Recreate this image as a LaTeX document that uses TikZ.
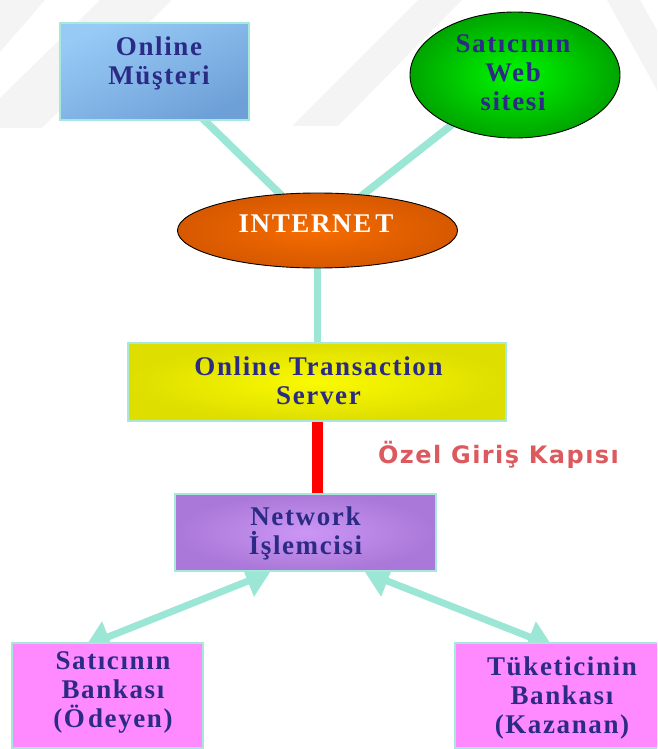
\documentclass[tikz,border=0pt]{standalone}
\usepackage{fontspec}
\setmainfont{Liberation Serif}
\newfontfamily\gatefont{DejaVu Sans}
\usetikzlibrary{shapes.geometric,arrows.meta,backgrounds,calc}

\definecolor{aqua}{HTML}{9CE6D6}
\definecolor{boxrim}{HTML}{A6E8DA}
\definecolor{navytext}{HTML}{2B2B86}
\definecolor{gatered}{HTML}{DC5A5E}
\definecolor{wmgray}{HTML}{F4F4F4}

\tikzset{
  boxbase/.style={rectangle, draw=boxrim, line width=2.5pt, inner sep=0pt},
  ovalbase/.style={ellipse, draw=black, line width=0.9pt, inner sep=0pt},
  lbl/.style={anchor=north, inner sep=0pt, align=center, text=navytext,
    font=\fontsize{27}{29}\selectfont\bfseries\addfontfeatures{LetterSpace=6}},
  gatelbl/.style={anchor=base, inner sep=0pt, text=gatered,
    font=\gatefont\bfseries\fontsize{24}{27}\selectfont\addfontfeatures{LetterSpace=6}},
  link/.style={draw=aqua, line width=7.5pt},
  gateline/.style={draw=red, line width=11pt},
  twoway/.style={draw=aqua, line width=7pt,
    {Triangle[width=32pt,length=24pt]}-{Triangle[width=32pt,length=24pt]}},
  wmark/.style={fill=wmgray}
}

\begin{document}
\begin{tikzpicture}[x=1pt,y=-1pt]
\useasboundingbox (0,0) rectangle (657,749);
\clip (0,0) rectangle (657,749);

% faint diagonal bands in the backdrop
\begin{scope}[on background layer]
  \fill[wmark] (0,0) -- (45,0) -- (0,52) -- cycle;
  \fill[wmark] (100,0) -- (172,0) -- (42,128) -- (0,128) -- (0,98) -- cycle;
  \fill[wmark] (418,0) -- (462,0) -- (338,126) -- (292,126) -- cycle;
  \fill[wmark] (607,0) -- (640,0) -- (657,30) -- (657,90) -- cycle;
\end{scope}

% shapes
\node[boxbase, top color={rgb,255:red,152;green,202;blue,246}, bottom color={rgb,255:red,110;green,160;blue,216},
      shading angle=25, minimum width=189pt, minimum height=97pt] (must) at (154.5,71.5) {};
\node[ovalbase, inner color={rgb,255:red,0;green,248;blue,0}, outer color={rgb,255:red,0;green,165;blue,0},
      minimum width=210pt, minimum height=126pt] (web) at (515,75) {};
\node[ovalbase, inner color={rgb,255:red,246;green,108;blue,0}, outer color={rgb,255:red,214;green,88;blue,0},
      minimum width=280pt, minimum height=75pt] (inet) at (317.5,230.5) {};
\node[boxbase, inner color={rgb,255:red,250;green,250;blue,0}, outer color={rgb,255:red,222;green,222;blue,0},
      minimum width=378pt, minimum height=78pt] (ots) at (317,382) {};
\node[boxbase, inner color={rgb,255:red,204;green,150;blue,246}, outer color={rgb,255:red,170;green,120;blue,216},
      minimum width=261pt, minimum height=77pt] (net) at (305.5,532.5) {};
\node[boxbase, fill={rgb,255:red,255;green,138;blue,255},
      minimum width=191pt, minimum height=105pt] (bank1) at (107.5,695.5) {};
\node[boxbase, fill={rgb,255:red,255;green,138;blue,255},
      minimum width=210pt, minimum height=105pt] (bank2) at (560,695.5) {};

% texts
\node[lbl] (mustlbl) at (159,36.4) {Online\\Müşteri};
\node[lbl] (weblbl) at (513,34.4) {Satıcının\\Web\\sitesi};
\node[lbl, text=white] (inetlbl) at (316,215) {INTERNE\kern4pt T};
\node[lbl] (otslbl) at (318.5,356.4) {Online Transaction\\Server};
\node[lbl] (netlbl) at (305.5,506.4) {Network\\İşlemcisi};
\node[lbl] (bank1lbl) at (113,651.4) {Satıcının\\Bankası\\(Ö\kern3pt deyen)};
\node[lbl] (bank2lbl) at (562,656.4) {Tüketicinin\\Bankası\\(Kazanan)};
\node[gatelbl] (gate) at (498.5,463) {Özel Giriş Kapısı};

% connectors, kept under the shapes
\begin{scope}[on background layer]
  \draw[link] (must.center) -- (inet.center);
  \draw[link] (web.center) -- (inet.center);
  \draw[link] (inet.center) -- (inet.center |- ots.center);
  \draw[gateline] (ots.center) -- (ots.center |- net.center);
  \draw[twoway] ([xshift=-35.5pt]net.south) -- ([xshift=-21.5pt,yshift=-4pt]bank1.north);
  \draw[twoway] ([xshift=59.5pt]net.south) -- ([xshift=-8pt,yshift=-4pt]bank2.north);
\end{scope}
\end{tikzpicture}
\end{document}
